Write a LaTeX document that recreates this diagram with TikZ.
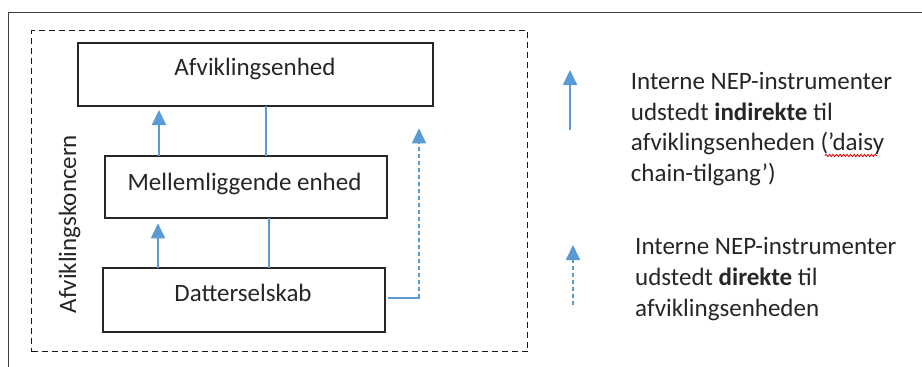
\documentclass[tikz,border=0pt]{standalone}
\usepackage{fontspec}
\setmainfont{Carlito}
\usetikzlibrary{arrows.meta,decorations.pathmorphing}
\definecolor{nepblue}{HTML}{5B9BD5}
\definecolor{inkgray}{HTML}{262626}
\definecolor{framegray}{HTML}{404040}
\tikzset{
  entbox/.style={draw=black!85, line width=1.8pt, inner sep=0pt, outer sep=0pt, rectangle},
  entlabel/.style={anchor=base, inner sep=0pt, text=inkgray, font=\fontsize{25}{30.8}\selectfont},
  legtext/.style={anchor=base west, inner sep=0pt, align=left, text=inkgray, font=\fontsize{25}{30.8}\selectfont},
  bluetip/.style={-{Triangle[length=15pt,width=14pt]}},
  bluearrow/.style={draw=nepblue, line width=1.8pt, bluetip},
  blueline/.style={draw=nepblue, line width=1.8pt},
  bluedash/.style={draw=nepblue, line width=1.8pt, dash pattern=on 4pt off 3pt, bluetip},
  groupbox/.style={draw=black!90, line width=1.5pt, dash pattern=on 6pt off 4pt, inner sep=0pt, outer sep=0pt, rectangle},
  framelines/.style={draw=framegray, line width=1.5pt}
}
\begin{document}
\begin{tikzpicture}[x=1pt, y=-1pt]
\useasboundingbox (0,0) rectangle (922,367);
% outer frame (only top and left edges visible)
\draw[framelines] (922,12.7) -- (8.3,12.7) -- (8.3,367);
% group box
\node[groupbox, minimum width=496pt, minimum height=321pt] (grp) at (279.7,191.2) {};
\node[rotate=90, anchor=base, inner sep=0pt, text=inkgray, font=\fontsize{25}{30}\selectfont] (grplabel) at (76,224.2) {Afviklingskoncern};
% entity boxes
\node[entbox, minimum width=355pt, minimum height=63pt] (afv) at (255.8,74.2) {};
\node[entbox, minimum width=281.4pt, minimum height=61.7pt] (mel) at (246,186.85) {};
\node[entbox, minimum width=281.7pt, minimum height=63.4pt] (dat) at (244.15,300) {};
\node[entlabel] (afvt) at (255,75) {Afviklingsenhed};
\node[entlabel] (melt) at (244.5,190) {Mellemliggende enhed};
\node[entlabel] (datt) at (243,301.7) {Datterselskab};
% connector columns
\coordinate (c1) at (159,0);
\coordinate (c2) at (158,0);
\coordinate (c3) at (266,0);
\coordinate (c4) at (269,0);
\coordinate (dcorner) at (419,298.3);
\coordinate (dtip) at (419,128.3);
\draw[bluearrow, shorten >=4.3pt] (mel.north -| c1) -- (afv.south -| c1);
\draw[bluearrow, shorten >=5.6pt] (dat.north -| c2) -- (mel.south -| c2);
\draw[blueline] (afv.south -| c3) -- (mel.north -| c3);
\draw[blueline] (mel.south -| c4) -- (dat.north -| c4);
\draw[blueline, shorten <=3.3pt] (dat.east |- dcorner) -- ([xshift=0.9pt]dcorner);
\draw[bluedash] (dcorner) -- (dtip);
% legend
\coordinate (lg1s) at (570,130);
\coordinate (lg1e) at (570,70);
\coordinate (lg2s) at (573,305);
\coordinate (lg2e) at (573,245);
\draw[bluearrow] (lg1s) -- (lg1e);
\draw[bluedash] (lg2s) -- (lg2e);
\node[legtext] (leg1) at (630.7,181.7) {Interne NEP-instrumenter\\udstedt \textbf{indirekte} til\\afviklingsenheden (’daisy\\chain-tilgang’)};
\node[legtext] (leg2) at (635,316) {Interne NEP-instrumenter\\udstedt \textbf{direkte} til\\afviklingsenheden};
% spell-check squiggle under "daisy"
\coordinate (sq1) at (825,155.5);
\coordinate (sq2) at (877,155.5);
\draw[red!85!black, line width=0.8pt, decorate, decoration={snake, amplitude=1.2pt, segment length=3.5pt}] (sq1) -- (sq2);
\end{tikzpicture}
\end{document}
